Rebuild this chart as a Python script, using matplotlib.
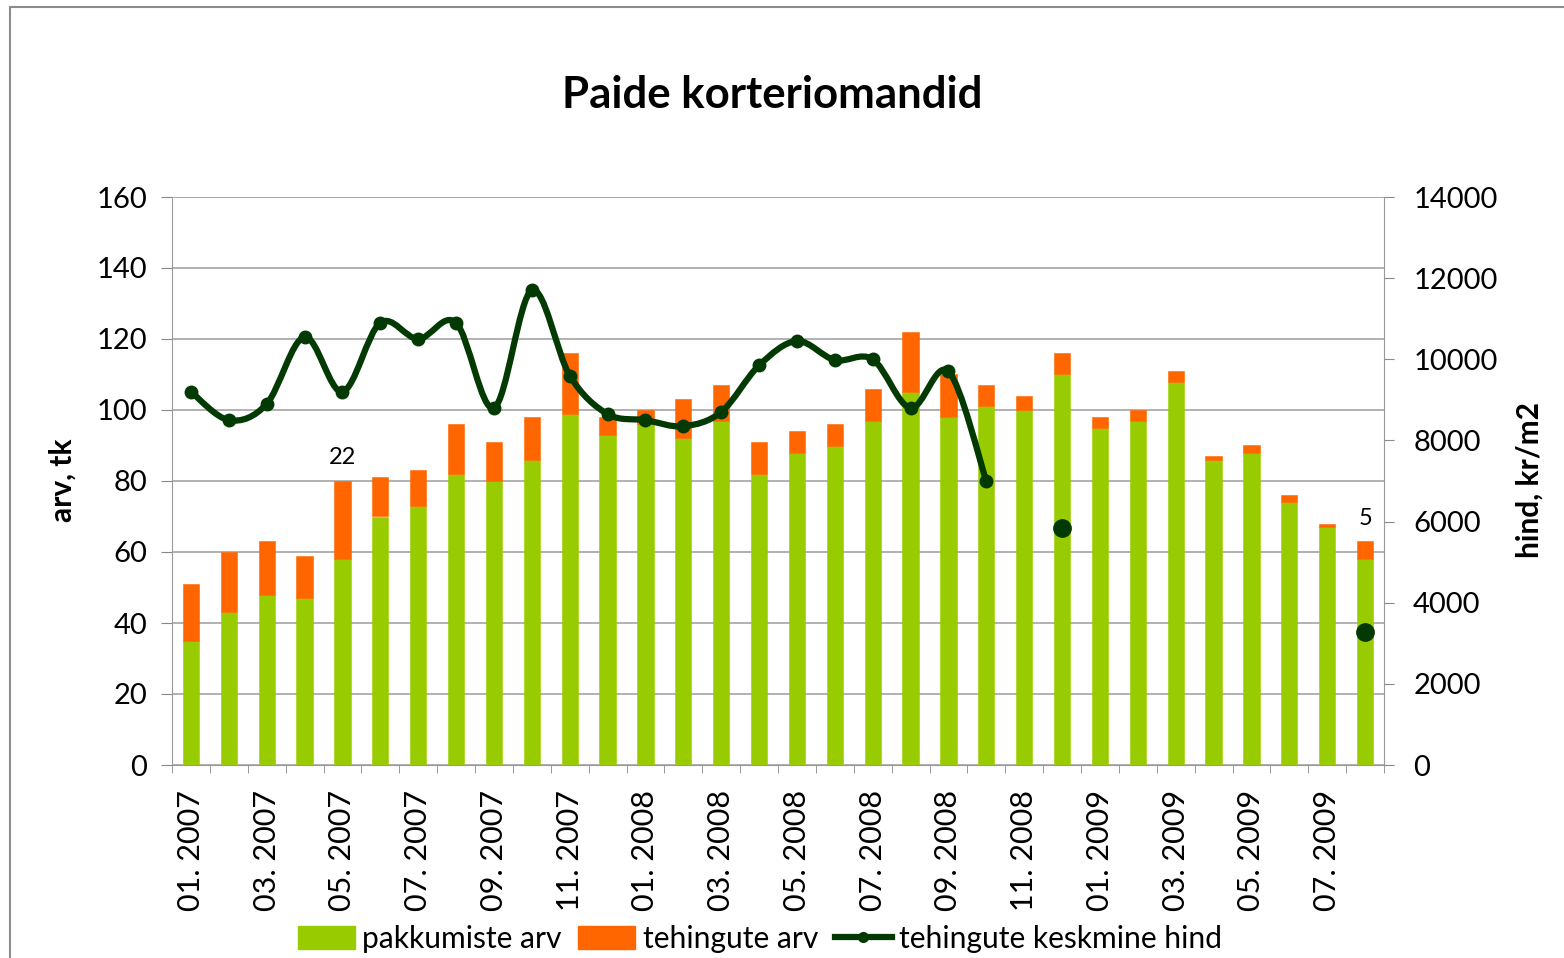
import numpy as np
import matplotlib
matplotlib.use("Agg")
import matplotlib.pyplot as plt
from matplotlib.path import Path
from matplotlib.patches import PathPatch, Rectangle, Patch
from matplotlib.lines import Line2D

plt.rcParams["font.family"] = ["Lato", "DejaVu Sans"]

# -------------------------------
# Data
# -------------------------------
months = ["01. 2007", "02. 2007", "03. 2007", "04. 2007", "05. 2007", "06. 2007",
          "07. 2007", "08. 2007", "09. 2007", "10. 2007", "11. 2007", "12. 2007",
          "01. 2008", "02. 2008", "03. 2008", "04. 2008", "05. 2008", "06. 2008",
          "07. 2008", "08. 2008", "09. 2008", "10. 2008", "11. 2008", "12. 2008",
          "01. 2009", "02. 2009", "03. 2009", "04. 2009", "05. 2009", "06. 2009",
          "07. 2009", "08. 2009"]
offers = [35, 43, 48, 47, 58, 70, 73, 82, 80, 86, 99, 93,
          96, 92, 97, 82, 88, 90, 97, 105, 98, 101, 100, 110,
          95, 97, 108, 86, 88, 74, 67, 58]
deals = [16, 17, 15, 12, 22, 11, 10, 14, 11, 12, 17, 5,
         4, 11, 10, 9, 6, 6, 9, 17, 12, 6, 4, 6,
         3, 3, 3, 1, 2, 2, 1, 5]
price = [9200, 8500, 8900, 10550, 9200, 10900, 10500, 10900, 8800, 11700, 9600, 8650,
         8500, 8350, 8700, 9850, 10450, 9980, 10000, 8800, 9700, 7000, np.nan, 5830,
         np.nan, np.nan, np.nan, np.nan, np.nan, np.nan, np.nan, 3290]
labelled = [4, 31]   # bars with a deal count label

GREEN = "#99cc00"
ORANGE = "#ff6600"
DARK = "#033a03"
GRID = "#ababab"

W, H = 1564, 958
x = np.arange(len(months))
offers = np.array(offers)
deals = np.array(deals)
price = np.array(price, dtype=float)

fig = plt.figure(figsize=(W / 100, H / 100), dpi=100)
ax = fig.add_axes([172 / W, 1 - 765 / H, (1384 - 172) / W, (765 - 197) / H])

# -------------------------------
# Stacked bars
# -------------------------------
ax.bar(x, offers, width=0.43, color=GREEN, edgecolor=GREEN, lw=0.4, zorder=2)
ax.bar(x, deals, width=0.43, bottom=offers, color=ORANGE, edgecolor=ORANGE, lw=0.4,
       zorder=2)
for i in labelled:
    ax.annotate(str(deals[i]), (x[i], offers[i] + deals[i]), xytext=(0, 9),
                textcoords="offset points", ha="center", va="bottom", fontsize=17)

ax.set_xlim(-0.5, len(months) - 0.5)
ax.set_ylim(0, 160)
ax.set_yticks(range(0, 161, 20))
ax.set_axisbelow(True)
ax.grid(axis="y", color=GRID, lw=1.3)
ax.set_xticks(x[::2])
ax.set_xticklabels(months[::2], rotation=90, va="top")
ax.set_xticks(np.arange(-0.5, len(months), 1), minor=True)
ax.tick_params(axis="x", which="major", length=0, pad=18, labelsize=22)
ax.tick_params(axis="x", which="minor", length=6, color="#888888")
ax.tick_params(axis="y", length=8, color="#888888", pad=10, labelsize=21)
for s in ax.spines.values():
    s.set_color("#999999")
ax.spines["top"].set_color(GRID)

# -------------------------------
# Smoothed price line on right axis
# -------------------------------
ax2 = ax.twinx()
ax2.set_ylim(0, 14000)
ax2.set_yticks(range(0, 14001, 2000))
ax2.tick_params(axis="y", length=7, color="#888888", pad=14, labelsize=21)
for s in ax2.spines.values():
    s.set_visible(False)

valid = ~np.isnan(price)
runs, cur = [], []
for i in x:
    if valid[i]:
        cur.append(i)
    elif cur:
        runs.append(cur)
        cur = []
if cur:
    runs.append(cur)

for run in runs:
    px, py = x[run].astype(float), price[run]
    if len(run) == 1:
        ax2.plot(px, py, "o", ms=12.5, color=DARK, zorder=3)
        continue
    verts = [(px[0], py[0])]
    codes = [Path.MOVETO]
    n = len(run)
    for i in range(n - 1):
        p0 = np.array([px[max(i - 1, 0)], py[max(i - 1, 0)]])
        p1 = np.array([px[i], py[i]])
        p2 = np.array([px[i + 1], py[i + 1]])
        p3 = np.array([px[min(i + 2, n - 1)], py[min(i + 2, n - 1)]])
        c1 = p1 + (p2 - p0) / 6
        c2 = p2 - (p3 - p1) / 6
        verts += [tuple(c1), tuple(c2), tuple(p2)]
        codes += [Path.CURVE4] * 3
    ax2.add_patch(PathPatch(Path(verts, codes), fill=False, edgecolor=DARK, lw=4.5,
                            capstyle="round", joinstyle="round", zorder=3))
    ax2.plot(px, py, "o", ms=9, color=DARK, zorder=3)

# -------------------------------
# Texts, legend, frame
# -------------------------------
fig.text(772 / W, 1 - 95 / H, "Paide korteriomandid", fontsize=31.5, weight="bold",
         ha="center", va="center")
fig.text(63 / W, 1 - 480 / H, "arv, tk", fontsize=21.5, weight="bold", rotation=90,
         ha="center", va="center")
fig.text(1530 / W, 1 - 480 / H, "hind, kr/m2", fontsize=21.5, weight="bold",
         rotation=90, ha="center", va="center")

handles = [Patch(color=GREEN, label="pakkumiste arv"),
           Patch(color=ORANGE, label="tehingute arv"),
           Line2D([], [], color=DARK, lw=4.5, marker="o", ms=7,
                  label="tehingute keskmine hind")]
fig.legend(handles=handles, loc="center", bbox_to_anchor=(760 / W, 1 - 939 / H),
           ncol=3, frameon=False, fontsize=21.6, handlelength=1.9, handleheight=0.8,
           handletextpad=0.25, columnspacing=0.55)

fig.add_artist(Rectangle((10 / W, -0.1), 2, 1.1 - 7 / H, transform=fig.transFigure,
                         fill=False, edgecolor="#8c8c8c", lw=1.5))

fig.savefig("out.png", dpi=100)
